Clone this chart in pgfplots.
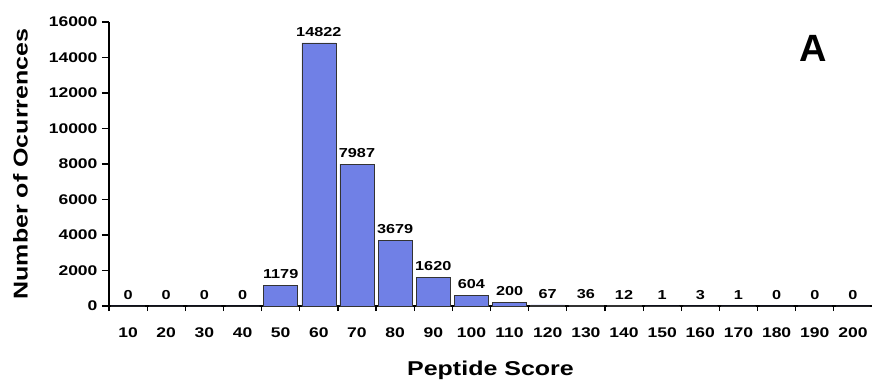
\documentclass[border=0pt]{standalone}
\usepackage{fontspec}
\setmainfont{Liberation Sans}[FakeStretch=1.25]
\newfontfamily\plainfont{Liberation Sans}
\usepackage{pgfplots}
\pgfplotsset{compat=1.18}
\definecolor{barblue}{RGB}{112,128,230}
\begin{document}
\begin{tikzpicture}
\begin{axis}[
  name=ax,
  scale only axis, width=763pt, height=284pt,
  xmin=0.5, xmax=20.5, ymin=0, ymax=16000,
  axis x line*=bottom, axis y line*=left,
  axis line style={line width=1.8pt,-},
  ybar, bar width=34pt,
  xtick={1,...,20}, xticklabels={10,20,30,40,50,60,70,80,90,100,110,120,130,140,150,160,170,180,190,200},
  major x tick style={draw=none},
  minor xtick={0.5,1.5,...,19.5},
  minor tick length=5pt,
  major tick length=7pt,
  tick align=outside,
  tick style={line width=1.2pt,black},
  ytick={0,2000,...,16000},
  scaled y ticks=false,
  /pgf/number format/.cd, 1000 sep={}, assume math mode=true, /pgfplots/.cd,
  ticklabel style={font=\bfseries\fontsize{14}{16}\selectfont},
  xticklabel style={yshift=-11pt},
  yticklabel style={xshift=-1pt},
  nodes near coords={\pgfmathprintnumber[1000 sep={},assume math mode=true]{\pgfplotspointmeta}},
  every node near coord/.append style={font=\bfseries\fontsize{13}{15}\selectfont, yshift=3pt},
  xlabel={Peptide Score},
  ylabel={Number of Ocurrences},
  xlabel style={font=\bfseries\fontsize{20}{23}\selectfont, at={(axis description cs:0.5,-0.225)}, anchor=center},
  ylabel style={font=\bfseries\fontsize{20}{23}\selectfont, at={(axis description cs:-0.116,0.5)}, anchor=center},
  clip=false,
]
\addplot[fill=barblue, draw=black!80, line width=0.6pt] coordinates {
(1,0) (2,0) (3,0) (4,0) (5,1179) (6,14822) (7,7987) (8,3679) (9,1620) (10,604)
(11,200) (12,67) (13,36) (14,12) (15,1) (16,3) (17,1) (18,0) (19,0) (20,0)};
\node[font=\plainfont\bfseries\fontsize{38}{40}\selectfont] at (rel axis cs:0.9227,0.908) {A};
\end{axis}
\pgfresetboundingbox
\path ([shift={(-109pt,-79pt)}]ax.south west) rectangle ([shift={(0pt,22pt)}]ax.north east);
\end{tikzpicture}
\end{document}
